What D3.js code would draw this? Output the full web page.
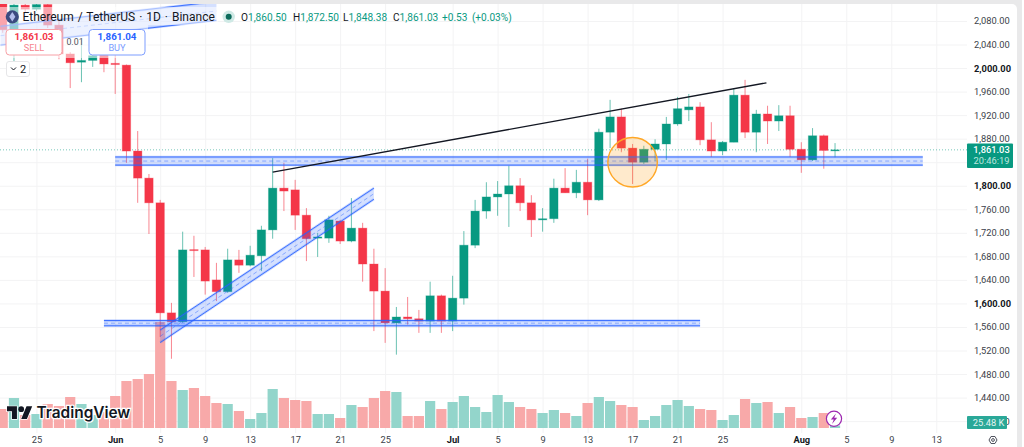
<!DOCTYPE html>
<html>
<head>
<meta charset="utf-8">
<script src="https://cdn.jsdelivr.net/npm/d3@7"></script>
<style>
  html, body { margin: 0; padding: 0; background: #fff; overflow: hidden; }
  svg { display: block; font-family: Roboto, "Noto Sans", sans-serif; }
  .axis path.domain { display: none; }
  .axis line { stroke: #f3f3f4; }
  .axis text { fill: #3b3f4a; font-size: 9.3px; font-family: Roboto, sans-serif; }
  .axis text.major { fill: #131722; font-weight: 700; }
</style>
</head>
<body>
<svg id="chart" width="1024" height="447"></svg>
<script>
// daily candles, first one is 22 May
const firstDay = '2023-05-22';
const opens = [2109, 2061, 2107, 2100, 2108, 2073, 2024, 2010, 2013, 2022, 2008, 2005, 1859, 1813, 1771, 1584, 1569, 1691.5, 1691, 1640, 1620, 1674, 1665, 1681, 1725, 1796, 1793, 1750, 1711, 1711, 1740, 1706, 1728, 1667, 1621, 1567, 1577, 1574, 1570, 1613, 1570, 1609, 1699, 1757, 1781, 1786, 1800, 1771, 1742, 1744, 1796, 1788, 1806, 1776, 1891, 1917, 1864, 1840, 1862, 1871, 1905, 1929, 1934, 1878, 1859, 1874, 1954, 1891, 1922, 1910, 1919, 1862, 1844, 1885, 1860.5];
const highs = [2112, 2110, 2110, 2111, 2111, 2080, 2027, 2048, 2027, 2031, 2026, 2006, 1893, 1820, 1776, 1601, 1722, 1715, 1696, 1669, 1693, 1691, 1698, 1732, 1847, 1839, 1810, 1762, 1720, 1749, 1742, 1779, 1737, 1693, 1660, 1594, 1611, 1589, 1637, 1615, 1647, 1723, 1776, 1806, 1808, 1834, 1813, 1784, 1762, 1812, 1830, 1827, 1846, 1897, 1946, 1931, 1871, 1868, 1879, 1917, 1951, 1956, 1942, 1908, 1876, 1966, 1980, 1929, 1936, 1937, 1936, 1874, 1898, 1887, 1872.5];
const lows = [2060, 2012, 2095, 2097, 2068, 2015, 1966, 1976, 2002, 1993, 1956, 1839, 1771, 1718, 1543, 1506, 1567, 1645, 1615, 1604, 1618, 1652, 1663, 1655, 1710, 1757, 1725, 1672, 1679, 1703, 1701, 1704, 1637, 1553, 1533, 1513, 1564, 1550, 1550, 1550, 1553, 1598, 1694, 1744, 1749, 1730, 1757, 1713, 1722, 1737, 1788, 1779, 1750, 1774, 1864, 1857, 1803, 1837, 1842, 1844, 1902, 1910, 1869, 1849, 1852, 1874, 1881, 1857, 1871, 1893, 1849, 1822, 1842, 1829, 1848.38];
const closes = [2065, 2107, 2100, 2108, 2073, 2024, 2009, 2013, 2021, 2007, 2006, 1859, 1813, 1771, 1584, 1569, 1691, 1690, 1638, 1620, 1674, 1665, 1682, 1725, 1796, 1791, 1750, 1710, 1713, 1742, 1706, 1728, 1667, 1621, 1567, 1577, 1574, 1570, 1613, 1570, 1609, 1699, 1757, 1781, 1786, 1800, 1771, 1742, 1744, 1796, 1788, 1806, 1776, 1891, 1917, 1864, 1840, 1862, 1871, 1905, 1931, 1934, 1878, 1859, 1874, 1954, 1891, 1922, 1910, 1919, 1862, 1844, 1885, 1860, 1861.03];
// volume in thousands
const volumes = [190, 300, 130, 140, 240, 220, 310, 240, 130, 160, 320, 470, 490, 540, 1060, 470, 380, 400, 320, 250, 240, 170, 90, 150, 390, 300, 280, 270, 140, 140, 100, 230, 210, 300, 370, 360, 120, 120, 270, 190, 260, 320, 210, 160, 330, 260, 210, 190, 150, 180, 150, 120, 250, 310, 270, 230, 210, 80, 120, 230, 280, 220, 190, 180, 80, 130, 290, 250, 260, 150, 210, 100, 110, 150, 25.48];

// the 1,840 label sits under the price tag, so it stays blank
const priceTicks = [2080, 2040, 2000, 1960, 1920, 1880, 1840, 1800, 1760, 1720, 1680, 1640, 1600, 1560, 1520, 1480, 1440, 1400];
const hiddenPrices = [1840];
const majorPrices = [2000, 1800, 1600];
const dateTicks = ['2023-05-25', '2023-06-01', '2023-06-05', '2023-06-09', '2023-06-13', '2023-06-17', '2023-06-21', '2023-06-25', '2023-07-01', '2023-07-05', '2023-07-09', '2023-07-13', '2023-07-17', '2023-07-21', '2023-07-25', '2023-08-01', '2023-08-05', '2023-08-09', '2023-08-13'];
const dateLabels = ['25', 'Jun', '5', '9', '13', '17', '21', '25', 'Jul', '5', '9', '13', '17', '21', '25', 'Aug', '5', '9', '13'];

// drawings on the chart: [date, price]
const supportHighTop = [['2023-06-01', 1849], ['2023-08-11.8', 1849]];
const supportHighBottom = [['2023-06-01', 1835], ['2023-08-11.8', 1835]];
const supportLowTop = [['2023-05-31', 1571], ['2023-07-23', 1571]];
const supportLowBottom = [['2023-05-31', 1562], ['2023-07-23', 1562]];
const risingUpper = [['2023-06-05', 1555], ['2023-06-24', 1796]];
const risingLower = [['2023-06-05', 1533.5], ['2023-06-24', 1777]];
const oldUpper = [['2023-05-21.8', 2071], ['2023-06-10', 2113]];
const oldLower = [['2023-05-21.8', 2039], ['2023-06-10', 2081]];
const trendLine = [['2023-06-15', 1823], ['2023-07-28.9', 1975]];
const circleSpot = ['2023-07-17', 1840];

const w = 1024;
const h = 447;
const plotRight = 967;
const plotBottom = 433;
const red = '#f43648';
const green = '#089981';
const blue = '#2962ff';

const day = s => {
  const [y, m, d] = s.split('-');
  return new Date(Date.UTC(+y, +m - 1, 1) + (parseFloat(d) - 1) * 864e5);
};
const dates = opens.map((_, i) => d3.utcDay.offset(day(firstDay), i));

const x = d3.scaleUtc()
  .domain([day('2023-06-01'), day('2023-08-01')])
  .range([115.2, 801.3]);
const y = d3.scaleLinear()
  .domain([2080, 1440])
  .range([21, 397.6]);
const yVol = d3.scaleLinear()
  .domain([0, 1060])
  .range([428, 322]);

const svg = d3.select('#chart');

// page frame
svg.append('rect').attr('width', 1022).attr('height', h).attr('fill', '#e9e9ea');
svg.append('rect').attr('x', -10).attr('y', 4).attr('width', 1027).attr('height', h + 10).attr('rx', 5).attr('fill', '#fff');

svg.append('defs').append('clipPath').attr('id', 'plot')
  .append('rect').attr('x', 0).attr('y', 4).attr('width', plotRight).attr('height', plotBottom - 4);

// grid + axes
svg.append('g').attr('class', 'axis')
  .attr('transform', `translate(${plotRight},0)`)
  .call(d3.axisRight(y).tickValues(priceTicks).tickSize(-plotRight).tickPadding(7)
    .tickFormat(d => hiddenPrices.includes(d) ? '' : d3.format(',.2f')(d)))
  .selectAll('text')
  .classed('major', d => majorPrices.includes(d));

svg.append('g').attr('class', 'axis')
  .attr('transform', `translate(0,${plotBottom})`)
  .call(d3.axisBottom(x).tickValues(dateTicks.map(day)).tickSize(-(plotBottom - 4)).tickPadding(3.5)
    .tickFormat((_, i) => dateLabels[i]))
  .selectAll('text')
  .classed('major', (_, i) => isNaN(+dateLabels[i]));

const plot = svg.append('g').attr('clip-path', 'url(#plot)');

// volume
plot.append('g').selectAll('rect')
  .data(dates)
  .enter()
  .append('rect')
  .attr('x', d => x(d) - 5.1)
  .attr('width', 10.2)
  .attr('y', (_, i) => yVol(volumes[i]))
  .attr('height', (_, i) => yVol(0) - yVol(volumes[i]))
  .attr('fill', (_, i) => closes[i] >= opens[i] ? '#93d5cb' : '#f8a9a9');

// last price line
plot.append('line')
  .attr('x1', 0).attr('x2', plotRight)
  .attr('y1', y(1861.03)).attr('y2', y(1861.03))
  .attr('stroke', green).attr('stroke-opacity', 0.55).attr('stroke-dasharray', '1 2');

// wicks
plot.append('g').selectAll('line')
  .data(dates)
  .enter()
  .append('line')
  .attr('x1', d => x(d)).attr('x2', d => x(d))
  .attr('y1', (_, i) => y(highs[i]))
  .attr('y2', (_, i) => y(lows[i]))
  .attr('stroke', (_, i) => closes[i] >= opens[i] ? green : red)
  .attr('stroke-opacity', 0.6);

// bodies
plot.append('g').selectAll('rect')
  .data(dates)
  .enter()
  .append('rect')
  .attr('x', d => x(d) - 4.2)
  .attr('width', 8.4)
  .attr('y', (_, i) => y(Math.max(opens[i], closes[i])))
  .attr('height', (_, i) => Math.max(Math.abs(y(opens[i]) - y(closes[i])), 1))
  .attr('fill', (_, i) => closes[i] >= opens[i] ? green : red)
  .attr('stroke', (_, i) => closes[i] >= opens[i] ? green : red)
  .attr('stroke-opacity', 0.3);

// channels
const pt = ([d, p]) => [x(day(d)), y(p)];
function drawChannel(upper, lower) {
  const a = upper.map(pt);
  const b = lower.map(pt);
  const mid = a.map((p, i) => [(p[0] + b[i][0]) / 2, (p[1] + b[i][1]) / 2]);
  const line = d3.line();
  const g = plot.append('g');
  g.append('path').attr('d', line([a[0], a[1], b[1], b[0]]) + 'Z')
    .attr('fill', blue).attr('fill-opacity', 0.2);
  [a, b].forEach(edge => {
    g.append('path').attr('d', line(edge)).attr('stroke', blue).attr('stroke-width', 2.4).attr('stroke-opacity', 0.25).attr('fill', 'none');
    g.append('path').attr('d', line(edge)).attr('stroke', blue).attr('stroke-width', 1).attr('stroke-opacity', 0.85).attr('fill', 'none');
  });
  g.append('path').attr('d', line(mid)).attr('stroke', blue).attr('stroke-opacity', 0.45)
    .attr('stroke-dasharray', '4 3').attr('fill', 'none');
}
drawChannel(oldUpper, oldLower);
drawChannel(supportHighTop, supportHighBottom);
drawChannel(supportLowTop, supportLowBottom);
drawChannel(risingUpper, risingLower);

// trend line
plot.append('path')
  .attr('d', d3.line()(trendLine.map(pt)))
  .attr('stroke', '#131722').attr('stroke-width', 1.3).attr('fill', 'none');

// highlight circle
plot.append('circle')
  .attr('cx', x(day(circleSpot[0])))
  .attr('cy', y(circleSpot[1]))
  .attr('r', x(day('2023-01-03.2')) - x(day('2023-01-01')))
  .attr('fill', '#ff9800').attr('fill-opacity', 0.2)
  .attr('stroke', '#ffa726').attr('stroke-width', 1.4);

// veil behind the legend
svg.append('rect').attr('x', 0).attr('y', 7).attr('width', 218).attr('height', 18).attr('fill', '#fff').attr('opacity', 0.55);
svg.append('rect').attr('x', 0).attr('y', 25).attr('width', 148).attr('height', 33).attr('fill', '#fff').attr('opacity', 0.55);

// legend
svg.append('circle').attr('cx', 12.3).attr('cy', 16.8).attr('r', 6.6).attr('fill', '#3c4a80');
svg.append('path').attr('d', 'M12.3 12 L15.4 16.8 L12.3 21.5 L9.2 16.8 Z').attr('fill', '#b4bdeb');
svg.append('text').attr('x', 22.5).attr('y', 21).attr('font-size', 12).attr('fill', '#131722')
  .attr('word-spacing', 1).text('Ethereum / TetherUS · 1D · Binance');
svg.append('circle').attr('cx', 228.7).attr('cy', 16.8).attr('r', 6.2).attr('fill', '#cfe9e5');
svg.append('circle').attr('cx', 228.7).attr('cy', 16.8).attr('r', 3).attr('fill', '#0b6b5b');

const ohlc = [['O', '1,860.50', 241], ['H', '1,872.50', 293], ['L', '1,848.38', 343], ['C', '1,861.03', 393]];
ohlc.forEach(([k, v, px]) => {
  const t = svg.append('text').attr('x', px).attr('y', 20.5).attr('font-size', 10.1);
  t.append('tspan').attr('fill', '#131722').text(k);
  t.append('tspan').attr('fill', green).text(v);
});
svg.append('text').attr('x', 442).attr('y', 20.5).attr('font-size', 10.1).attr('fill', green).attr('word-spacing', 2).text('+0.53 (+0.03%)');

// order buttons
function orderButton(bx, price, label, stroke, color, soft) {
  svg.append('rect').attr('x', bx).attr('y', 29.5).attr('width', 56).attr('height', 25.5).attr('rx', 3.5)
    .attr('fill', '#fff').attr('stroke', stroke);
  svg.append('text').attr('x', bx + 28).attr('y', 40).attr('text-anchor', 'middle')
    .attr('font-size', 9.8).attr('font-weight', 700).attr('fill', color).text(price);
  svg.append('text').attr('x', bx + 28).attr('y', 51).attr('text-anchor', 'middle')
    .attr('font-size', 9.2).attr('fill', soft).text(label);
}
orderButton(6, '1,861.03', 'SELL', '#f7a0a6', red, '#f7848e');
orderButton(89, '1,861.04', 'BUY', '#7c9dff', blue, '#7c9dff');
svg.append('text').attr('x', 75).attr('y', 45).attr('text-anchor', 'middle').attr('font-size', 8.8).attr('fill', '#50535e').text('0.01');

svg.append('rect').attr('x', 6.5).attr('y', 61.5).attr('width', 23).attr('height', 15).attr('rx', 2.5).attr('fill', '#fff').attr('stroke', '#e6e6e8');
svg.append('path').attr('d', 'M11 67.5 L13.5 70 L16 67.5').attr('stroke', '#131722').attr('fill', 'none');
svg.append('text').attr('x', 20).attr('y', 72.5).attr('font-size', 11).attr('fill', '#131722').text('2');

// price tags
svg.append('rect').attr('x', plotRight).attr('y', 143.5).attr('width', 46).attr('height', 24.5).attr('rx', 1).attr('fill', green);
svg.append('text').attr('x', 991.5).attr('y', 153.4).attr('text-anchor', 'middle').attr('font-size', 9.3).attr('font-weight', 500).attr('fill', '#fff').text('1,861.03');
svg.append('text').attr('x', 991.5).attr('y', 164.4).attr('text-anchor', 'middle').attr('font-size', 9.3).attr('fill', '#bfe6df').text('20:46:19');

svg.append('rect').attr('x', plotRight).attr('y', 416).attr('width', 40).attr('height', 13).attr('rx', 1).attr('fill', '#2aa898');
svg.append('text').attr('x', 988.5).attr('y', 426).attr('text-anchor', 'middle').attr('font-size', 9.3).attr('fill', '#e4f5f2').text('25.48 K');

// lightning badge
svg.append('circle').attr('cx', 834).attr('cy', 418.7).attr('r', 7.6).attr('fill', '#fff').attr('stroke', '#9c27b0').attr('stroke-width', 1.2);
svg.append('path').attr('d', 'M836 413.5 L830.8 419.6 L833.8 419.6 L832 424 L837.2 417.8 L834.2 417.8 Z').attr('fill', '#9c27b0');

// settings icon
svg.append('path').attr('d', 'M989 440 L991 436.5 L995 436.5 L997 440 L995 443.5 L991 443.5 Z').attr('fill', 'none').attr('stroke', '#50535e');
svg.append('circle').attr('cx', 993).attr('cy', 440).attr('r', 1.4).attr('fill', 'none').attr('stroke', '#50535e');

// TradingView mark
const logo = svg.append('g').attr('transform', 'translate(7,403.5) scale(0.71)');
logo.append('path').attr('d', 'M14 22H7V11H0V4h14v18zM28 22h-8l7.5-18h8L28 22z').attr('fill', '#131722').attr('stroke', '#fff').attr('stroke-width', 2).attr('paint-order', 'stroke');
logo.append('circle').attr('cx', 20).attr('cy', 8).attr('r', 4).attr('fill', '#131722');
svg.append('text').attr('x', 36.5).attr('y', 418)
  .attr('font-size', 15.4).attr('font-weight', 600).attr('font-family', 'Inter, Roboto, sans-serif')
  .attr('fill', '#131722').attr('stroke', '#fff').attr('stroke-width', 2.5).attr('paint-order', 'stroke')
  .text('TradingView');
</script>
</body>
</html>
